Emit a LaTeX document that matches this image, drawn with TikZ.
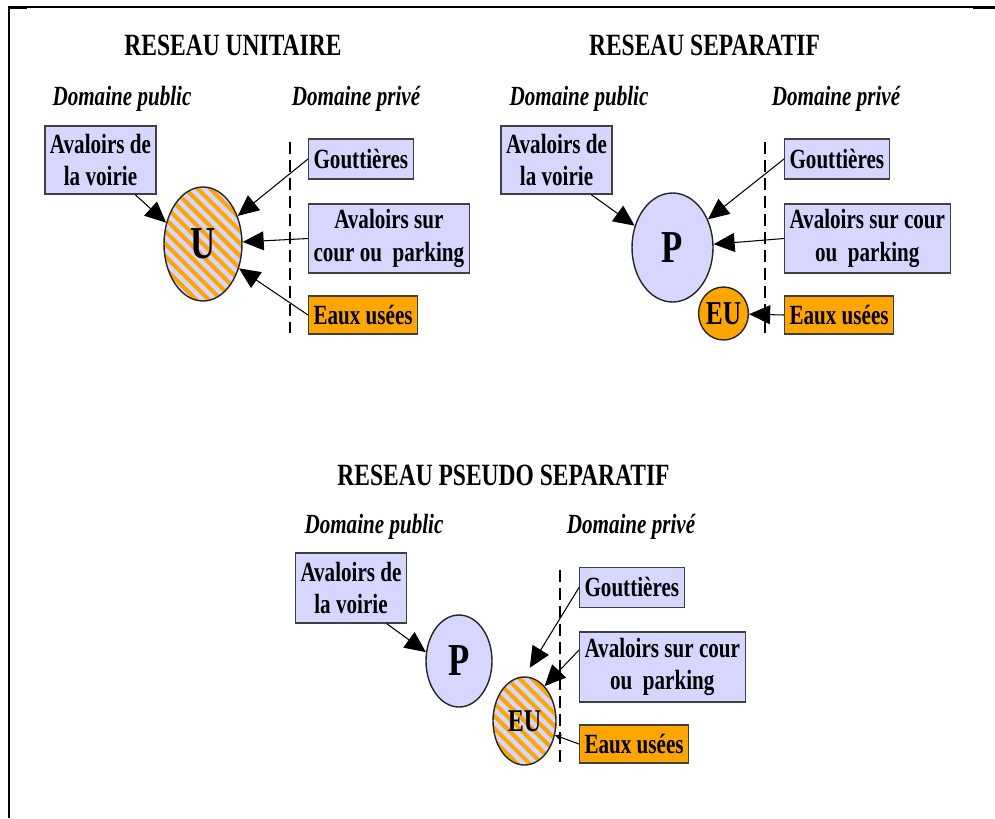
\documentclass[tikz,border=0pt]{standalone}
\usepackage{fontspec}
\setmainfont{Liberation Serif}[FakeStretch=0.76]
\usetikzlibrary{arrows.meta,calc,shapes.geometric}
\definecolor{lav}{RGB}{214,214,255}
\definecolor{eu}{RGB}{255,165,0}

\begin{document}
\begin{tikzpicture}[text=black,
  titre/.style={font=\fontsize{17.6}{20}\selectfont\bfseries},
  domaine/.style={font=\fontsize{15.8}{18}\selectfont\bfseries\itshape},
  boite/.style={draw=black!75, line width=0.6pt, fill=lav, align=center,
    inner xsep=0.1cm, inner ysep=0.05cm, minimum height=0.8cm,
    font=\fontsize{15.8}{18.5}\selectfont\bfseries},
  usee/.style={boite, fill=eu},
  reseau/.style={ellipse, draw=black!85, line width=0.8pt, fill=lav,
    inner sep=0pt, font=\fontsize{26}{26}\selectfont\bfseries},
  hachure/.style={reseau, path picture={
    \foreach \k in {-3.25,-3,...,3.25}
      \draw[eu, line width=2.3pt]
        ($(path picture bounding box.center)+(\k-2,2)$) -- ++(4,-4);}},
  fleche/.style={-{Triangle[length=0.42cm,width=0.38cm]}, line width=0.6pt,
    black},
  limite/.style={dash pattern=on 0.24cm off 0.12cm, line width=1.1pt}]

\useasboundingbox (0,0) rectangle (19.9,-16.36);

% cadre
\draw[line width=0.6pt] (0.16,-0.14) -- (19.9,-0.14);
\draw[line width=1.4pt] (0.18,-0.14) -- (0.18,-16.36);
\draw[line width=1.4pt] (0.16,-0.15) -- (0.54,-0.15);
\draw[line width=1.4pt] (19.46,-0.15) -- (19.9,-0.15);

% reseau unitaire
\node (titreU) [titre] at (4.66,-0.90) {RESEAU UNITAIRE};
\node (pubU) [domaine] at (2.44,-1.98) {Domaine public};
\node (privU) [domaine] at (7.12,-1.98) {Domaine privé};

\node (U) [hachure, minimum width=1.56cm, minimum height=2.28cm]
    at (4.06,-4.88) {U};

\path (U)+(-2.05,1.68) node (voirieU) [boite, minimum height=1.36cm]
    {Avaloirs de\\la voirie};
\path (U)+(2.10,1.70) node (gouttU) [boite, anchor=west] {Gouttières};
\path (U)+(2.10,0.11) node (avalU) [boite, anchor=west, minimum height=1.38cm]
    {Avaloirs sur\\cour ou~ parking};
\path (U)+(2.10,-1.42) node (eauxU) [usee, anchor=west,
    minimum height=0.76cm] {Eaux usées};

\path (U)+(1.74,2.04) coordinate (hautU);
\path (U)+(1.74,-1.78) coordinate (basU);
\draw[limite] (hautU) -- (basU);

\draw[fleche] (voirieU.-45) -- (U.150);
\draw[fleche] (gouttU.west) -- (U);
\draw[fleche] (avalU.west) -- (U);
\draw[fleche] (eauxU.west) -- (U);

% reseau separatif
\node (titreP) [titre] at (14.09,-0.90) {RESEAU SEPARATIF};
\node (pubP) [domaine] at (11.58,-1.98) {Domaine public};
\node (privP) [domaine] at (16.72,-1.98) {Domaine privé};

\node (P) [reseau, minimum width=1.62cm, minimum height=2.18cm]
    at (13.45,-4.95) {P};
\path (P)+(1.02,-1.32) node (EUP) [reseau, fill=eu, minimum width=0.94cm,
    minimum height=1.06cm, font=\fontsize{19}{19}\selectfont\bfseries] {EU};

\path (P)+(-2.32,1.75) node (voirieP) [boite, minimum height=1.36cm]
    {Avaloirs de\\la voirie};
\path (P)+(2.23,1.77) node (gouttP) [boite, anchor=west] {Gouttières};
\path (P)+(2.23,0.18) node (avalP) [boite, anchor=west, minimum height=1.38cm]
    {Avaloirs sur cour\\ou~ parking};
\path (P)+(2.23,-1.35) node (eauxP) [usee, anchor=west,
    minimum height=0.76cm] {Eaux usées};

\path (P)+(1.85,2.11) coordinate (hautP);
\path (P)+(1.85,-1.71) coordinate (basP);
\draw[limite] (hautP) -- (basP);

\draw[fleche] (voirieP.-45) -- (P.150);
\draw[fleche] (gouttP.west) -- (P);
\draw[fleche] (avalP.west) -- (P);
\draw[fleche] (eauxP.west) -- (EUP);

% reseau pseudo separatif
\node (titreS) [titre] at (10.07,-9.50) {RESEAU PSEUDO SEPARATIF};
\node (pubS) [domaine] at (7.48,-10.54) {Domaine public};
\node (privS) [domaine] at (12.62,-10.54) {Domaine privé};

\node (PS) [reseau, minimum width=1.32cm, minimum height=1.84cm]
    at (9.18,-13.22) {P};
\path (PS)+(-2.16,1.46) node (voirieS) [boite, minimum height=1.40cm]
    {Avaloirs de\\la voirie};
\path (PS)+(1.31,-1.20) node (EUS) [hachure, minimum width=1.26cm,
    minimum height=1.76cm, font=\fontsize{18}{18}\selectfont\bfseries] {EU};

\path (EUS)+(0.71,3.02) coordinate (hautS);
\path (EUS)+(0.71,-0.82) coordinate (basS);
\draw[limite] (hautS) -- (basS);

\path (EUS)+(1.09,2.67) node (gouttS) [boite, anchor=west] {Gouttières};
\path (EUS)+(1.09,1.08) node (avalS) [boite, anchor=west, minimum height=1.40cm]
    {Avaloirs sur cour\\ou~ parking};
\path (EUS)+(1.09,-0.46) node (eauxS) [usee, anchor=west,
    minimum height=0.76cm] {Eaux usées};

\draw[fleche] (voirieS.-45) -- (PS.165);
\draw[fleche, shorten >=0.2cm] (gouttS.west) -- (EUS.north);
\draw[fleche] ($(avalS.west)+(0,0.34)$) -- (EUS.60);
\draw[fleche, -{Triangle[length=0.12cm,width=0.12cm]}] (eauxS.west) -- (EUS.-25);

\end{tikzpicture}
\end{document}
